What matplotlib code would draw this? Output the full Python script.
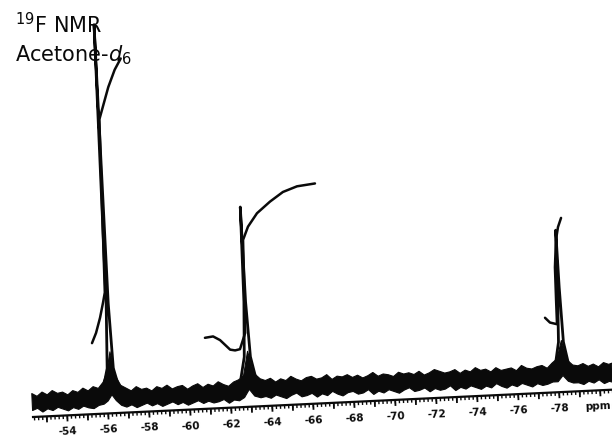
import numpy as np
import matplotlib
matplotlib.use("Agg")
import matplotlib.pyplot as plt
from matplotlib.transforms import Affine2D

plt.rcParams["font.family"] = ["DejaVu Sans"]
plt.rcParams["mathtext.default"] = "regular"

# 19F NMR 谱（丙酮-d6），强度为任意单位
# 噪声基线的上下包络，分段读取
seg_a_ppm = [-52.3, -52.55, -52.8, -53.05, -53.3, -53.55, -53.8, -54.05, -54.3, -54.55,
             -54.8, -55.05, -55.3, -55.55, -55.8]
seg_a_hi = [24, 21, 25, 22, 26, 23, 24, 21, 25, 23, 27, 24, 28, 26, 32]
seg_a_lo = [7, 9, 5, 8, 6, 9, 7, 5, 8, 6, 9, 7, 6, 9, 10]

foot1_ppm = [-56.0, -56.2, -56.4, -56.65]
foot1_hi = [42, 62, 38, 28]
foot1_lo = [13, 19, 13, 8]

seg_b_ppm = [-56.9, -57.15, -57.4, -57.65, -57.9, -58.15, -58.4, -58.65, -58.9, -59.15,
             -59.4, -59.65, -59.9, -60.15, -60.4, -60.65, -60.9, -61.15, -61.4, -61.65,
             -61.9, -62.15, -62.4, -62.65]
seg_b_hi = [25, 22, 26, 23, 24, 21, 25, 23, 26, 22, 24, 25, 21, 24, 26, 22, 25, 23, 27, 24,
            22, 26, 28, 32]
seg_b_lo = [6, 8, 5, 7, 9, 6, 8, 5, 7, 9, 6, 8, 5, 7, 9, 6, 8, 6, 7, 9, 5, 8, 7, 10]

foot2_ppm = [-62.9, -63.15, -63.45]
foot2_hi = [56, 34, 28]
foot2_lo = [18, 11, 9]

seg_c_ppm = [-63.7, -63.95, -64.2, -64.45, -64.7, -64.95, -65.2, -65.45, -65.7, -65.95,
             -66.2, -66.45, -66.7, -66.95, -67.2, -67.45, -67.7, -67.95, -68.2, -68.45,
             -68.7, -68.95, -69.2, -69.45, -69.7, -69.95, -70.2, -70.45, -70.7, -70.95,
             -71.2, -71.45, -71.7, -71.95, -72.2, -72.45, -72.7, -72.95, -73.2, -73.45,
             -73.7, -73.95, -74.2, -74.45, -74.7, -74.95, -75.2, -75.45, -75.7, -75.95,
             -76.2, -76.45, -76.7, -76.95, -77.2, -77.45, -77.7, -77.95]
seg_c_hi = [26, 28, 24, 27, 25, 29, 26, 24, 27, 28, 25, 26, 29, 24, 27, 26, 28, 25, 27, 24,
            26, 29, 25, 27, 26, 24, 28, 26, 27, 25, 28, 24, 26, 29, 27, 25, 26, 28, 24, 27,
            25, 29, 26, 27, 24, 28, 25, 26, 27, 24, 29, 26, 25, 27, 28, 25, 30, 34]
seg_c_lo = [10, 8, 11, 9, 7, 10, 12, 8, 9, 11, 7, 10, 8, 12, 9, 7, 10, 11, 8, 9,
            12, 7, 10, 8, 11, 9, 7, 10, 12, 8, 9, 11, 7, 10, 8, 9, 12, 7, 10, 8,
            11, 9, 7, 10, 8, 12, 9, 7, 10, 8, 11, 9, 7, 10, 8, 9, 11, 11]

foot3_ppm = [-78.2, -78.45, -78.7]
foot3_hi = [52, 32, 27]
foot3_lo = [17, 11, 9]

seg_d_ppm = [-78.95, -79.2, -79.45, -79.7, -79.95, -80.2, -80.45, -80.6]
seg_d_hi = [26, 28, 25, 27, 24, 28, 26, 27]
seg_d_lo = [9, 7, 10, 8, 11, 7, 9, 8]

band_ppm = seg_a_ppm + foot1_ppm + seg_b_ppm + foot2_ppm + seg_c_ppm + foot3_ppm + seg_d_ppm
band_hi = seg_a_hi + foot1_hi + seg_b_hi + foot2_hi + seg_c_hi + foot3_hi + seg_d_hi
band_lo = seg_a_lo + foot1_lo + seg_b_lo + foot2_lo + seg_c_lo + foot3_lo + seg_d_lo

# 三个峰
peak1_ppm = [-55.85, -56.05, -56.15, -56.2, -56.25, -56.35, -56.55]
peak1_int = [28, 45, 110, 389, 110, 45, 28]
peak2_ppm = [-62.55, -62.75, -62.86, -62.9, -62.94, -63.05, -63.25]
peak2_int = [30, 50, 105, 200, 105, 50, 30]
peak3_ppm = [-77.9, -78.08, -78.16, -78.2, -78.24, -78.32, -78.5]
peak3_int = [30, 50, 105, 162, 105, 50, 30]

# 积分曲线
int1_ppm = [-55.37, -55.59, -55.82, -56.0, -56.11, -56.24, -56.75, -57.1, -57.42]
int1_val = [71, 81, 96, 111, 121, 294, 326, 343, 354]
int2_ppm = [-60.88, -61.28, -61.61, -62.08, -62.32, -62.56, -62.85, -62.96,
            -63.23, -63.70, -64.36, -65.01, -65.71, -66.59]
int2_val = [71, 72, 68, 58, 57, 58, 74, 167, 180, 193, 204, 213, 218, 220]
int3_ppm = [-77.48, -77.71, -78.05, -78.06, -78.08, -78.19, -78.32, -78.49]
int3_val = [75, 70, 68, 92, 125, 152, 165, 174]

label_ticks = [-54, -56, -58, -60, -62, -64, -66, -68, -70, -72, -74, -76, -78]

fig = plt.figure(figsize=(6.12, 4.41), dpi=100)
ax = fig.add_axes([0, 0, 1, 1])
ax.set_xlim(-50.72, -80.545)
ax.set_ylim(-24, 417)
ax.axis("off")

# 扫描件略微倾斜，整体旋转约 2.7 度
pivot = ax.transData.transform((-52.33, 0))
T = ax.transData + Affine2D().rotate_deg_around(pivot[0], pivot[1], 2.7)

ink = "#0a0a0a"

# 基线噪声带
ax.fill_between(band_ppm, band_lo, band_hi, color=ink, lw=0.8, transform=T, clip_on=False)

# 峰
for xs, ys in [(peak1_ppm, peak1_int), (peak2_ppm, peak2_int), (peak3_ppm, peak3_int)]:
    ax.plot(xs, ys, color=ink, lw=2.0, transform=T, clip_on=False, solid_joinstyle="round")

# 积分
for xs, ys in [(int1_ppm, int1_val), (int2_ppm, int2_val), (int3_ppm, int3_val)]:
    ax.plot(xs, ys, color=ink, lw=1.8, transform=T, clip_on=False, solid_capstyle="round")

# 刻度尺
ax.plot([-52.33, -80.6], [0, 0], color=ink, lw=1.6, transform=T, clip_on=False)
minor = np.arange(-52.4, -80.61, -0.2)
ax.vlines(minor, -3.5, 0, color=ink, lw=1.0, transform=T, clip_on=False)
major = np.arange(-53, -80.1, -1)
ax.vlines(major, -6, 0, color=ink, lw=1.3, transform=T, clip_on=False)

for v in label_ticks:
    ax.text(v, -16.5, f"-{abs(v)}", transform=T, rotation=2.7, rotation_mode="anchor",
            ha="center", va="center", fontsize=7.5, fontweight="bold", color=ink)
ax.text(-79.85, -16.5, "ppm", transform=T, rotation=2.7, rotation_mode="anchor",
        ha="center", va="center", fontsize=7.5, fontweight="bold", color=ink)

# 标题文字
fig.text(15 / 612, 1 - 33 / 441, r"$^{19}$F NMR", fontsize=15, ha="left", va="baseline", color=ink)
fig.text(15 / 612, 1 - 61 / 441, r"Acetone-$\mathit{d}_6$", fontsize=15, ha="left", va="baseline", color=ink)

fig.savefig("out.png", dpi=100)
